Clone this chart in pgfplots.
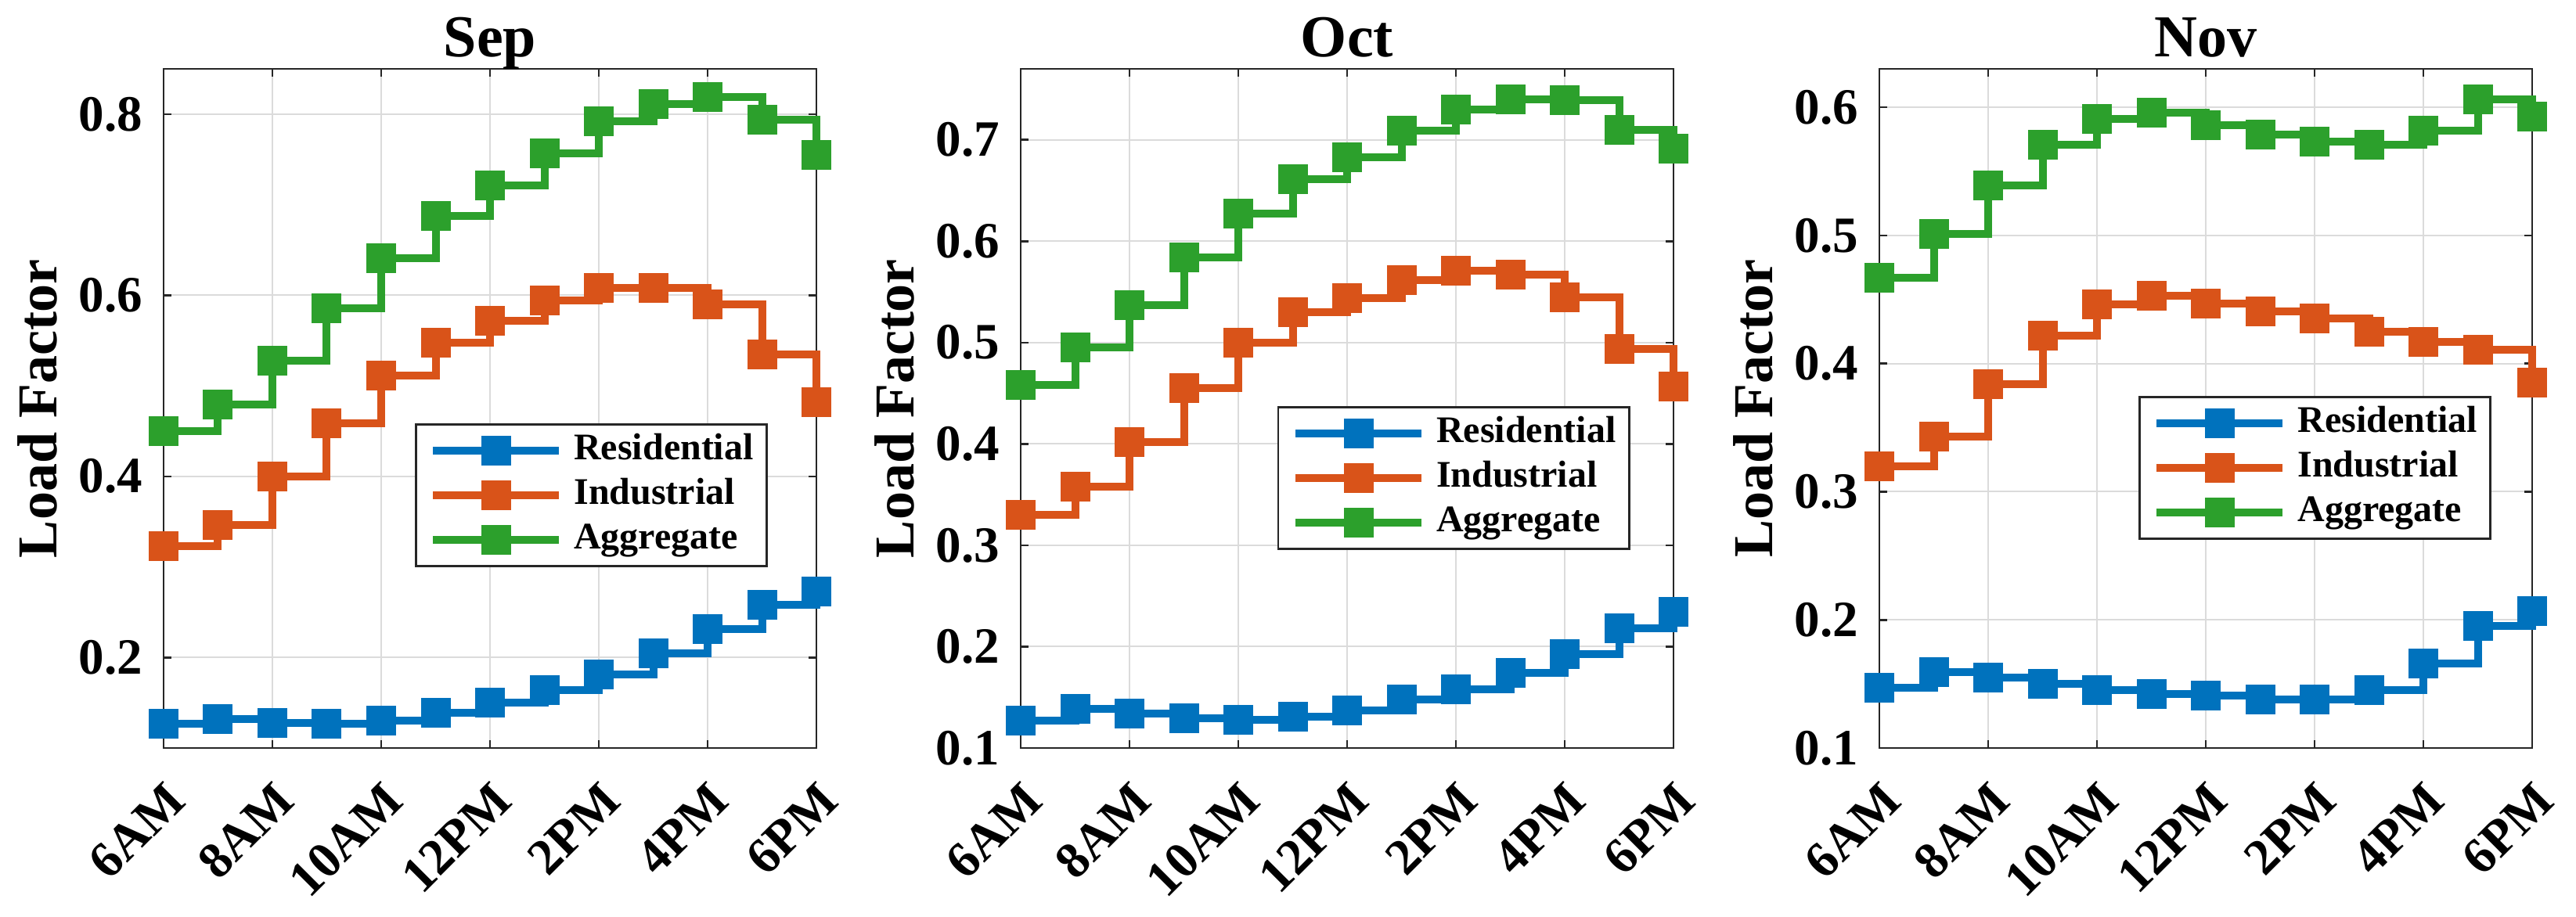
\documentclass[border=0pt]{standalone}
\usepackage{pgfplots}
\pgfplotsset{compat=1.18}
\usepackage{pgfplotstable}
\usepackage{fontspec}
\IfFontExistsTF{LiberationSerif-Bold.ttf}
  {\setmainfont{LiberationSerif-Regular.ttf}[BoldFont=LiberationSerif-Bold.ttf]}
  {\IfFontExistsTF{texgyretermes-bold.otf}
     {\setmainfont{texgyretermes-regular.otf}[BoldFont=texgyretermes-bold.otf]}
     {\setmainfont{Liberation Serif}}}
\definecolor{cres}{RGB}{0,114,189}
\definecolor{cind}{RGB}{217,83,25}
\definecolor{cagg}{RGB}{44,160,44}

\pgfplotstableread{
h  res   ind   agg
6  0.127 0.323 0.450
7  0.132 0.346 0.479
8  0.128 0.400 0.528
9  0.127 0.459 0.586
10 0.130 0.511 0.641
11 0.139 0.548 0.688
12 0.150 0.572 0.721
13 0.164 0.594 0.757
14 0.181 0.608 0.792
15 0.205 0.608 0.811
16 0.231 0.590 0.819
17 0.258 0.535 0.794
18 0.273 0.482 0.755
}\sepdata

\pgfplotstableread{
h  res   ind   agg
6  0.127 0.330 0.458
7  0.139 0.358 0.495
8  0.134 0.402 0.537
9  0.129 0.455 0.584
10 0.128 0.500 0.627
11 0.131 0.530 0.661
12 0.137 0.544 0.683
13 0.148 0.562 0.709
14 0.158 0.571 0.730
15 0.174 0.567 0.740
16 0.193 0.545 0.739
17 0.218 0.494 0.710
18 0.234 0.457 0.691
}\octdata

\pgfplotstableread{
h  res   ind   agg
6  0.147 0.320 0.467
7  0.159 0.343 0.501
8  0.155 0.384 0.539
9  0.150 0.422 0.571
10 0.145 0.446 0.591
11 0.142 0.453 0.596
12 0.141 0.447 0.586
13 0.138 0.441 0.579
14 0.138 0.435 0.573
15 0.145 0.425 0.571
16 0.166 0.417 0.582
17 0.195 0.411 0.606
18 0.207 0.385 0.593
}\novdata

\pgfplotsset{
  panel/.style={
    scale only axis, width=166.8pt, height=173.6pt,
    anchor=south west,
    xmin=6, xmax=18,
    xtick={6,8,10,12,14,16,18},
    xticklabels={6AM,8AM,10AM,12PM,2PM,4PM,6PM},
    clip=false,
    axis line style={black!85, line width=0.5pt},
    tick style={black!85, line width=0.5pt},
    major tick length=2pt, tick align=inside,
    xtick pos=both, ytick pos=both,
    grid=major, major grid style={black!14, line width=0.4pt},
    tick label style={font=\bfseries\fontsize{13}{13}\selectfont},
    yticklabel style={inner sep=0pt, xshift=-5.2pt},
    xticklabel style={inner sep=0pt, yshift=-7.8pt, rotate=45, anchor=north east},
    ylabel={Load Factor},
    every axis y label/.style={at={(axis description cs:-0.162,0.5)}, rotate=90, anchor=south, inner sep=0pt, font=\bfseries\fontsize{14.4}{14.4}\selectfont},
    every axis title/.style={at={(axis description cs:0.5,1)}, anchor=base, yshift=3.2pt, inner sep=0pt, font=\bfseries\fontsize{15.2}{15.2}\selectfont},
    legend cell align=left,
    legend style={draw=black!85, line width=0.5pt, fill=white,
      font=\bfseries\fontsize{9.6}{11.4}\selectfont,
      inner xsep=3.4pt, inner ysep=1pt, anchor=north west,
      nodes={inner xsep=0pt, inner ysep=1.2pt, text height=6.8pt, text depth=2.2pt},
      /tikz/every odd column/.append style={column sep=2.8pt}},
    legend image code/.code={\draw[#1, mark repeat=2, mark phase=2] plot coordinates {(0pt,0pt) (16.1pt,0pt) (32.2pt,0pt)};},
    every axis plot/.append style={const plot, line width=2pt, mark=square*, mark size=2.8pt, mark options={solid}},
  }
}

\begin{document}
\begin{tikzpicture}
\useasboundingbox (0,0) rectangle (658.2pt,234.2pt);

\begin{axis}[panel, at={(41.8pt,43pt)}, title={Sep},
  ymin=0.1, ymax=0.85, ytick={0.2,0.4,0.6,0.8}, yticklabels={0.2,0.4,0.6,0.8},
  legend style={at={(0.385,0.478)}}]
\addplot[cres] table[x=h,y=res] {\sepdata};
\addplot[cind] table[x=h,y=ind] {\sepdata};
\addplot[cagg] table[x=h,y=agg] {\sepdata};
\legend{Residential,Industrial,Aggregate}
\end{axis}

\begin{axis}[panel, at={(260.8pt,43pt)}, title={Oct},
  ymin=0.1, ymax=0.77, ytick={0.1,0.2,0.3,0.4,0.5,0.6,0.7}, yticklabels={0.1,0.2,0.3,0.4,0.5,0.6,0.7},
  legend style={at={(0.393,0.503)}}]
\addplot[cres] table[x=h,y=res] {\octdata};
\addplot[cind] table[x=h,y=ind] {\octdata};
\addplot[cagg] table[x=h,y=agg] {\octdata};
\legend{Residential,Industrial,Aggregate}
\end{axis}

\begin{axis}[panel, at={(480.2pt,43pt)}, title={Nov},
  ymin=0.1, ymax=0.63, ytick={0.1,0.2,0.3,0.4,0.5,0.6}, yticklabels={0.1,0.2,0.3,0.4,0.5,0.6},
  legend style={at={(0.397,0.518)}}]
\addplot[cres] table[x=h,y=res] {\novdata};
\addplot[cind] table[x=h,y=ind] {\novdata};
\addplot[cagg] table[x=h,y=agg] {\novdata};
\legend{Residential,Industrial,Aggregate}
\end{axis}
\end{tikzpicture}
\end{document}
